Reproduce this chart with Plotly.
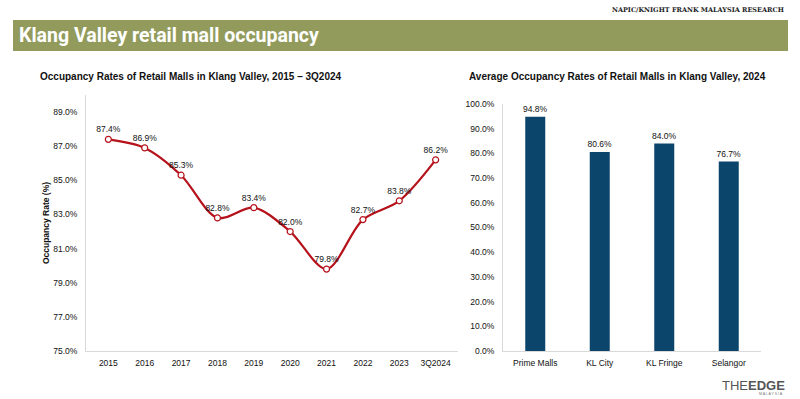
import plotly.graph_objects as go

years = ["2015", "2016", "2017", "2018", "2019", "2020", "2021", "2022", "2023", "3Q2024"]
occupancy = [87.4, 86.9, 85.3, 82.8, 83.4, 82.0, 79.8, 82.7, 83.8, 86.2]

regions = ["Prime Malls", "KL City", "KL Fringe", "Selangor"]
avg_2024 = [94.8, 80.6, 84.0, 76.7]

left_ticks = [75, 77, 79, 81, 83, 85, 87, 89]
right_ticks = [0, 10, 20, 30, 40, 50, 60, 70, 80, 90, 100]

FONT = "Liberation Sans, Arial, sans-serif"
RED = "#b5121b"
BLUE = "#0c456c"
AXIS = "#d9d9d9"

fig = go.Figure()

fig.add_trace(go.Scatter(
    x=years, y=occupancy, mode="lines+markers+text",
    line=dict(color=RED, width=2.2, shape="spline", smoothing=0.9),
    marker=dict(size=6, color="white", line=dict(color=RED, width=1.2)),
    text=[f"{v:.1f}%" for v in occupancy], textposition="top center",
    textfont=dict(family=FONT, size=8.5, color="#111"),
    cliponaxis=False, showlegend=False, xaxis="x", yaxis="y",
))

fig.add_trace(go.Bar(
    x=regions, y=avg_2024, marker=dict(color=BLUE, line=dict(width=0)),
    width=0.31,
    text=[f"{v:.1f}%" for v in avg_2024], textposition="outside", constraintext="none",
    textfont=dict(family=FONT, size=8.5, color="#111"),
    cliponaxis=False, showlegend=False, xaxis="x2", yaxis="y2",
))

axis_common = dict(showgrid=False, zeroline=False, showline=True, linecolor=AXIS, linewidth=1,
                   ticks="", tickfont=dict(family=FONT, size=8.5, color="#111"), fixedrange=True,
                   automargin=False)

fig.update_layout(
    width=800, height=399, autosize=False,
    margin=dict(l=0, r=0, t=0, b=0, pad=0),
    paper_bgcolor="white", plot_bgcolor="white",
    xaxis=dict(domain=[0.1075, 0.5725], anchor="y", ticklabelstandoff=4, **axis_common),
    yaxis=dict(domain=[0.1203, 0.7619], anchor="x", range=[75, 90],
               tickvals=left_ticks, ticktext=[f"{v:.1f}%" for v in left_ticks],
               ticklabelstandoff=6,
               title=dict(text="<b>Occupancy Rate (%)</b>", font=dict(family=FONT, size=8.5, color="#111"), standoff=2),
               **axis_common),
    xaxis2=dict(domain=[0.62875, 0.95125], anchor="y2", ticklabelstandoff=4, **axis_common),
    yaxis2=dict(domain=[0.1203, 0.7393], anchor="x2", range=[0, 100],
                tickvals=right_ticks, ticktext=[f"{v:.1f}%" for v in right_ticks],
                ticklabelstandoff=6, **axis_common),
    bargap=0.69,
    shapes=[dict(type="rect", xref="paper", yref="paper", x0=13/800, x1=788/800,
                 y0=1-51/399, y1=1-20/399, fillcolor="#929b5c", line=dict(width=0), layer="below")],
    annotations=[
        dict(text="Klang Valley retail mall occupancy", xref="paper", yref="paper",
             x=17/800, y=1-35.5/399, xanchor="left", yanchor="middle", showarrow=False,
             font=dict(family="Roboto, sans-serif", size=19.5, color="white", weight="bold")),
        dict(text="NAPIC/KNIGHT FRANK MALAYSIA RESEARCH", xref="paper", yref="paper",
             x=786/800, y=1-10/399, xanchor="right", yanchor="middle", showarrow=False,
             font=dict(family="DejaVu Serif, serif", size=6.5, color="#222", weight="bold")),
        dict(text="<b>Occupancy Rates of Retail Malls in Klang Valley, 2015 – 3Q2024</b>", xref="paper", yref="paper",
             x=38/800, y=1-77/399, xanchor="left", yanchor="middle", showarrow=False,
             font=dict(family=FONT, size=10, color="#111")),
        dict(text="<b>Average Occupancy Rates of Retail Malls in Klang Valley, 2024</b>", xref="paper", yref="paper",
             x=467/800, y=1-77/399, xanchor="left", yanchor="middle", showarrow=False,
             font=dict(family=FONT, size=10, color="#111")),
        dict(text="<span style='font-weight:300'>THE</span><b>EDGE</b>", xref="paper", yref="paper",
             x=787/800, y=1-385/399, xanchor="right", yanchor="middle", showarrow=False,
             font=dict(family=FONT, size=13, color="#555")),
        dict(text="M A L A Y S I A", xref="paper", yref="paper",
             x=785/800, y=1-394/399, xanchor="right", yanchor="middle", showarrow=False,
             font=dict(family=FONT, size=3.5, color="#777")),
    ],
)

fig.write_html("out.html", config={"displayModeBar": False},
               post_script="document.body.style.margin='0';document.body.style.overflow='hidden';")
